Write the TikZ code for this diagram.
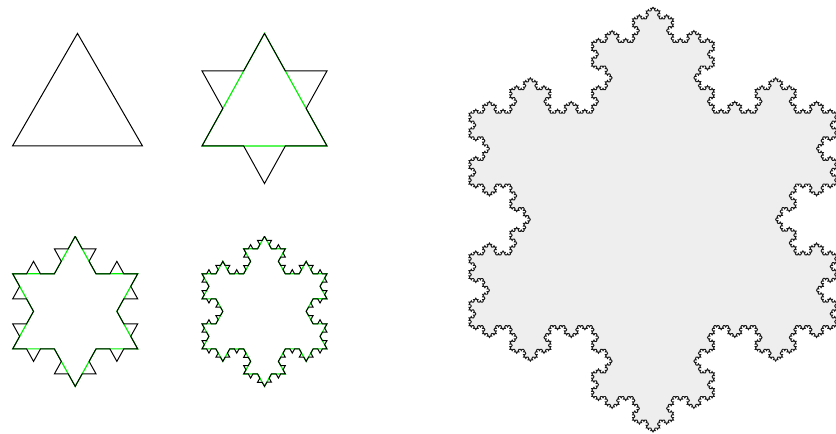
\documentclass[tikz,border=0pt]{standalone}
\usetikzlibrary{decorations.fractals}
\definecolor{kgreen}{RGB}{0,240,0}
\definecolor{kfill}{RGB}{238,238,238}
\begin{document}
\begin{tikzpicture}[x=1pt,y=1pt,
  kline/.style={line width=1pt, draw=black},
  gline/.style={line width=1.2pt, draw=kgreen},
  bigline/.style={line width=0.95pt, draw=black!90, fill=kfill},
  decoration=Koch snowflake]
\useasboundingbox (0,0) rectangle (836,434);
\clip (0,0) rectangle (836,434);

% iteration 0
\draw[kline] (77.5,400.6) -- (142.5,288) -- (12.5,288) -- cycle;

% iteration 1
\begin{scope}[transform canvas={shift={(264.5,0)},xscale=0.9615}]
  \draw[gline] (0,400.6) -- (65,288) -- (-65,288) -- cycle;
  \draw[kline] decorate{(0,400.6) -- (65,288) -- (-65,288) -- cycle};
\end{scope}

% iteration 2
\begin{scope}[transform canvas={shift={(75.2,0)},xscale=0.9615}]
  \draw[gline] decorate{(0,197.7) -- (65,85.1) -- (-65,85.1) -- cycle};
  \draw[kline] decorate{decorate{(0,197.7) -- (65,85.1) -- (-65,85.1) -- cycle}};
\end{scope}

% iteration 3
\begin{scope}[transform canvas={shift={(264.5,0)},xscale=0.9615}]
  \draw[gline] decorate{decorate{(0,197.7) -- (65,85.1) -- (-65,85.1) -- cycle}};
  \draw[kline] decorate{decorate{decorate{(0,197.7) -- (65,85.1) -- (-65,85.1) -- cycle}}};
\end{scope}

% large snowflake
\filldraw[bigline] decorate{decorate{decorate{decorate{decorate{(653,427) -- (837,108.3) -- (469,108.3) -- cycle}}}}};
\end{tikzpicture}
\end{document}
